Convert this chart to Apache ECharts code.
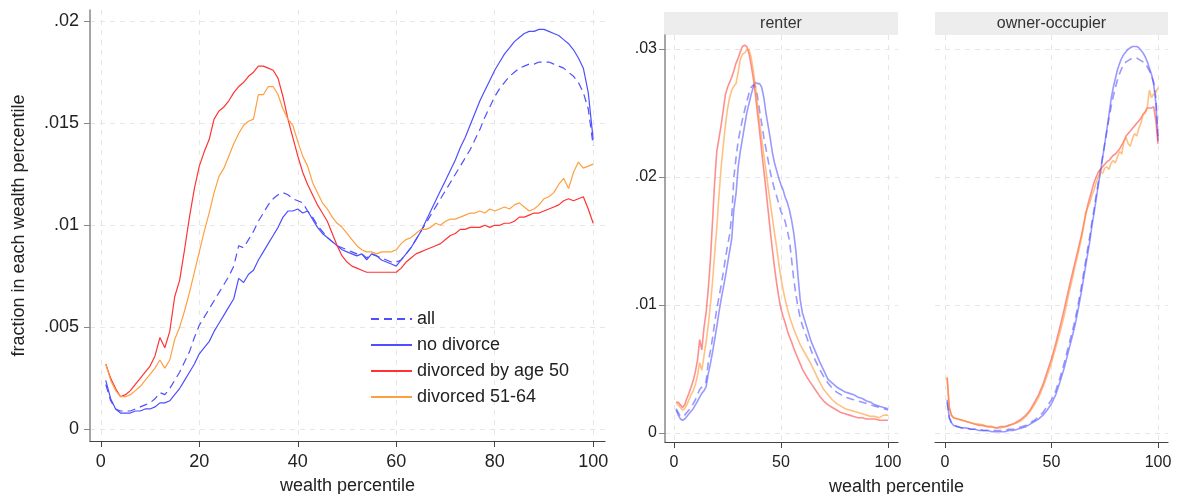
<!DOCTYPE html>
<html><head><meta charset="utf-8">
<script src="https://cdn.jsdelivr.net/npm/echarts@6/dist/echarts.min.js"></script>
<style>html,body{margin:0;padding:0;background:#fff}#c{width:1177px;height:494px}</style>
</head><body><div id="c"></div>
<script>
// ---------- DATA ----------
const seriesNames = ['all', 'no divorce', 'divorced by age 50', 'divorced 51-64'];
const panelTitles = ['renter', 'owner-occupier'];
const leftXTicks = [0, 20, 40, 60, 80, 100];
const leftYTicks = [0, 0.005, 0.01, 0.015, 0.02];
const rightXTicks = [0, 50, 100];
const rightYTicks = [0, 0.01, 0.02, 0.03];

const pctAll = [1,2,3,4,5,6,7,8,9,10,11,12,13,14,15,16,17,18,19,20,21,22,23,24,25,26,27,28,29,30,31,32,33,34,35,36,37,38,39,40,41,42,43,44,45,46,47,48,49,50,51,52,53,54,55,56,57,58,59,60,61,62,63,64,65,66,67,68,69,70,71,72,73,74,75,76,77,78,79,80,81,82,83,84,85,86,87,88,89,90,91,92,93,94,95,96,97,98,99,100];

const leftAll = [.0022,.0014,.0010,.0009,.0009,.0009,.0010,.0011,.0012,.0013,.0015,.0018,.0017,.0020,.0024,.0028,.0033,.0038,.0045,.0051,.0055,.0059,.0063,.0067,.0071,.0075,.0080,.0090,.0089,.0093,.0097,.0102,.0106,.0110,.0113,.0115,.0116,.0115,.0113,.0112,.0111,.0107,.0104,.0100,.0097,.0094,.0092,.0090,.0089,.0088,.0087,.0086,.0086,.0084,.0086,.0085,.0084,.0083,.0082,.0082,.0083,.0086,.0089,.0093,.0097,.0101,.0105,.0109,.0113,.0117,.0121,.0125,.0129,.0133,.0137,.0142,.0147,.0153,.0158,.0163,.0167,.0170,.0173,.0175,.0177,.0178,.0179,.0179,.0180,.0180,.0180,.0179,.0178,.0177,.0175,.0173,.0170,.0165,.0157,.0139];
const leftNoDiv = [.0024,.0015,.0010,.0008,.0008,.0008,.0009,.0009,.0010,.0010,.0011,.0013,.0013,.0014,.0017,.0020,.0024,.0028,.0032,.0037,.0040,.0043,.0048,.0052,.0056,.0060,.0064,.0074,.0072,.0076,.0078,.0083,.0087,.0091,.0095,.0099,.0104,.0107,.0107,.0108,.0106,.0107,.0103,.0099,.0096,.0094,.0092,.0090,.0088,.0087,.0086,.0085,.0086,.0083,.0086,.0085,.0083,.0082,.0081,.0080,.0083,.0086,.0089,.0093,.0097,.0102,.0107,.0112,.0117,.0122,.0127,.0132,.0138,.0143,.0149,.0155,.0161,.0166,.0171,.0176,.0180,.0184,.0187,.0190,.0192,.0194,.0195,.0195,.0196,.0196,.0195,.0194,.0193,.0191,.0189,.0186,.0182,.0177,.0165,.0142];
const leftDiv50 = [.0032,.0025,.0020,.0016,.0017,.0019,.0022,.0025,.0028,.0031,.0036,.0045,.0040,.0048,.0065,.0073,.0088,.0104,.0118,.0129,.0136,.0142,.0152,.0156,.0158,.0161,.0165,.0168,.0170,.0173,.0175,.0178,.0178,.0177,.0176,.0172,.0163,.0152,.0143,.0134,.0126,.0120,.0115,.0110,.0106,.0102,.0096,.0090,.0085,.0082,.0080,.0079,.0078,.0077,.0077,.0077,.0077,.0077,.0077,.0077,.0079,.0082,.0084,.0086,.0087,.0088,.0089,.0090,.0091,.0093,.0095,.0096,.0098,.0098,.0099,.0099,.0099,.0100,.0099,.0100,.0100,.0101,.0101,.0102,.0104,.0104,.0105,.0106,.0106,.0107,.0108,.0109,.0110,.0112,.0113,.0112,.0113,.0114,.0108,.0101];
const leftDiv5164 = [.0032,.0024,.0019,.0016,.0016,.0017,.0019,.0021,.0024,.0027,.0030,.0034,.0030,.0034,.0044,.0050,.0058,.0067,.0077,.0087,.0097,.0106,.0116,.0124,.0128,.0134,.0140,.0145,.0149,.0151,.0152,.0164,.0164,.0168,.0168,.0164,.0157,.0152,.0149,.0141,.0134,.0129,.0121,.0116,.0111,.0108,.0104,.0101,.0099,.0096,.0093,.0090,.0088,.0087,.0087,.0086,.0087,.0087,.0087,.0088,.0091,.0093,.0094,.0096,.0098,.0098,.0099,.0101,.0100,.0102,.0103,.0103,.0104,.0105,.0106,.0106,.0107,.0106,.0108,.0107,.0108,.0109,.0108,.0110,.0111,.0109,.0107,.0108,.0110,.0113,.0114,.0116,.0120,.0123,.0118,.0126,.0131,.0128,.0129,.0130];

const pctRenter = [1,2,3,4,5,6,7,8,9,10,11,12,13,14,15,16,17,18,19,20,21,22,23,24,25,26,27,28,29,30,31,32,33,34,35,36,37,38,39,40,41,42,43,44,45,46,47,48,49,50,51,52,53,54,55,56,57,58,59,60,62,64,66,68,70,72,74,76,78,80,82,84,86,88,90,92,94,96,98,100];
const renterAll = [.0019,.0016,.0013,.0013,.0014,.0016,.0018,.0020,.0023,.0026,.0030,.0034,.0036,.0038,.0040,.0055,.0064,.0074,.0086,.0097,.0106,.0115,.0125,.0136,.0146,.0155,.0170,.0200,.0215,.0228,.0237,.0245,.0252,.0259,.0265,.0270,.0272,.0271,.0263,.0252,.0242,.0231,.0222,.0213,.0204,.0197,.0190,.0185,.0179,.0173,.0170,.0165,.0158,.0150,.0135,.0120,.0108,.0098,.0090,.0084,.0075,.0065,.0057,.0050,.0044,.0039,.0035,.0032,.0030,.0028,.0027,.0026,.0025,.0024,.0023,.0022,.0021,.0020,.0019,.0018];
const renterNoDiv = [.0018,.0014,.0011,.0010,.0011,.0013,.0015,.0017,.0019,.0022,.0025,.0028,.0031,.0033,.0036,.0046,.0054,.0063,.0073,.0083,.0094,.0104,.0113,.0122,.0132,.0142,.0152,.0175,.0187,.0208,.0220,.0230,.0240,.0250,.0257,.0264,.0270,.0274,.0273,.0273,.0270,.0262,.0250,.0240,.0230,.0219,.0211,.0205,.0199,.0194,.0190,.0184,.0180,.0174,.0166,.0156,.0142,.0122,.0104,.0094,.0083,.0072,.0064,.0056,.0049,.0042,.0039,.0036,.0034,.0032,.0031,.0030,.0028,.0027,.0025,.0024,.0022,.0021,.0020,.0019];
const renterDiv50 = [.0024,.0024,.0022,.0020,.0022,.0027,.0031,.0036,.0041,.0048,.0057,.0073,.0065,.0082,.0094,.0112,.0135,.0165,.0196,.0220,.0230,.0240,.0252,.0264,.0270,.0274,.0278,.0283,.0289,.0293,.0298,.0302,.0303,.0302,.0297,.0288,.0278,.0265,.0250,.0236,.0220,.0205,.0190,.0174,.0158,.0143,.0129,.0117,.0106,.0097,.0091,.0086,.0080,.0075,.0071,.0066,.0062,.0058,.0054,.0050,.0044,.0039,.0034,.0029,.0025,.0022,.0020,.0018,.0016,.0015,.0014,.0013,.0012,.0012,.0011,.0011,.0011,.0010,.0010,.0010];
const renterDiv5164 = [.0024,.0022,.0020,.0018,.0019,.0022,.0026,.0030,.0033,.0038,.0045,.0055,.0049,.0060,.0071,.0084,.0100,.0118,.0140,.0160,.0185,.0207,.0224,.0240,.0253,.0262,.0268,.0271,.0273,.0282,.0292,.0296,.0297,.0299,.0300,.0294,.0284,.0272,.0257,.0243,.0230,.0217,.0205,.0192,.0180,.0168,.0156,.0145,.0132,.0121,.0112,.0104,.0097,.0091,.0086,.0081,.0077,.0073,.0069,.0066,.0060,.0054,.0047,.0040,.0034,.0030,.0026,.0023,.0021,.0019,.0018,.0017,.0016,.0015,.0014,.0013,.0013,.0012,.0014,.0014];

const pctOwner = [1,2,3,4,6,8,10,12,14,16,18,20,22,24,26,28,30,32,34,36,38,40,42,44,46,48,50,52,54,56,58,60,61,62,63,64,65,66,67,68,69,70,71,72,73,74,75,76,77,78,79,80,81,82,83,84,85,86,87,88,89,90,91,92,93,94,95,96,97,98,99,100];
const ownerAll = [.0024,.0012,.0008,.0006,.0005,.0004,.0004,.0003,.0003,.0003,.0002,.0002,.0002,.0002,.0002,.0002,.0003,.0003,.0004,.0005,.0006,.0008,.0010,.0013,.0016,.0021,.0026,.0033,.0043,.0055,.0068,.0081,.0088,.0096,.0105,.0114,.0124,.0134,.0144,.0154,.0165,.0175,.0186,.0196,.0206,.0216,.0226,.0236,.0246,.0255,.0263,.0270,.0276,.0281,.0285,.0288,.0290,.0291,.0292,.0293,.0293,.0293,.0292,.0291,.0290,.0289,.0286,.0283,.0279,.0274,.0262,.0232];
const ownerNoDiv = [.0026,.0012,.0008,.0006,.0005,.0004,.0004,.0003,.0003,.0002,.0002,.0002,.0001,.0001,.0001,.0001,.0002,.0002,.0003,.0004,.0005,.0007,.0009,.0011,.0014,.0018,.0023,.0030,.0040,.0051,.0064,.0077,.0084,.0092,.0101,.0110,.0120,.0130,.0140,.0150,.0162,.0172,.0183,.0194,.0204,.0215,.0226,.0237,.0249,.0261,.0270,.0277,.0284,.0289,.0293,.0296,.0298,.0300,.0301,.0302,.0302,.0302,.0301,.0299,.0297,.0294,.0290,.0285,.0280,.0272,.0258,.0228];
const ownerDiv50 = [.0043,.0020,.0014,.0012,.0011,.0010,.0009,.0008,.0007,.0006,.0006,.0005,.0005,.0004,.0005,.0005,.0006,.0007,.0009,.0011,.0014,.0018,.0024,.0030,.0038,.0048,.0058,.0070,.0083,.0097,.0112,.0126,.0133,.0140,.0147,.0154,.0162,.0170,.0178,.0184,.0190,.0196,.0200,.0204,.0206,.0208,.0210,.0212,.0213,.0215,.0217,.0218,.0220,.0222,.0225,.0228,.0232,.0234,.0236,.0238,.0240,.0242,.0244,.0246,.0249,.0251,.0254,.0254,.0254,.0255,.0244,.0226];
const ownerDiv5164 = [.0044,.0020,.0014,.0012,.0011,.0010,.0009,.0008,.0007,.0007,.0006,.0005,.0005,.0004,.0004,.0005,.0006,.0007,.0008,.0010,.0013,.0017,.0022,.0028,.0036,.0045,.0055,.0067,.0079,.0092,.0108,.0122,.0130,.0137,.0144,.0152,.0160,.0172,.0176,.0180,.0186,.0190,.0196,.0200,.0204,.0203,.0207,.0208,.0206,.0211,.0213,.0211,.0216,.0220,.0218,.0228,.0231,.0226,.0224,.0230,.0234,.0232,.0238,.0242,.0249,.0250,.0255,.0268,.0262,.0265,.0266,.0270];

// ---------- CHART ----------
const FONT = 'Liberation Sans, Arial, sans-serif';
const TXT = '#222';
const zip = (xs, ys) => xs.map((x, i) => [x, ys[i]]);
const fmtY = v => (v === 0 ? '0' : String(+v.toFixed(4)).replace(/^0/, ''));

const solidColors = { blue: '#4f4fff', red: '#ff3333', orange: '#ffa040' };
const paleColors = { blue: 'rgba(70,70,255,0.55)', red: 'rgba(255,50,50,0.55)', orange: 'rgba(255,150,50,0.6)' };

function mkSeries(name, data, color, dashed, xi, width) {
  return {
    name, type: 'line', xAxisIndex: xi, yAxisIndex: xi, data,
    showSymbol: false, symbol: 'none', smooth: false, animation: false,
    lineStyle: { color, width, type: dashed ? [8, 5] : 'solid' },
    itemStyle: { color }, emphasis: { disabled: true }, z: 3
  };
}

const gridSplit = { show: true, lineStyle: { color: '#e6e6e6', type: [5, 5], width: 1 } };

function xAxisCfg(gi, min, max, ticks, fs, margin) {
  return {
    type: 'value', gridIndex: gi, min, max,
    axisLine: { show: true, onZero: false, lineStyle: { color: '#444', width: 1.2 } },
    axisTick: { show: true, length: 6, customValues: ticks, lineStyle: { color: '#444' } },
    axisLabel: { customValues: ticks, color: TXT, fontSize: fs, fontFamily: FONT, margin },
    splitLine: gridSplit
  };
}
function yAxisCfg(gi, min, max, ticks, fs, margin, showAxis) {
  return {
    type: 'value', gridIndex: gi, min, max,
    axisLine: { show: showAxis, onZero: false, lineStyle: { color: '#888', width: 1.5 } },
    axisTick: { show: showAxis, length: 6, customValues: ticks, lineStyle: { color: '#888' } },
    axisLabel: { show: showAxis, customValues: ticks, color: TXT, fontSize: fs, fontFamily: FONT, margin, formatter: fmtY },
    splitLine: gridSplit
  };
}

const xL = xAxisCfg(0, -2.2, 102.4, leftXTicks, 18, 12);
xL.name = 'wealth percentile'; xL.nameLocation = 'middle'; xL.nameGap = 36;
xL.nameTextStyle = { color: TXT, fontSize: 18, fontFamily: FONT };
const yL = yAxisCfg(0, -0.00057, 0.02055, leftYTicks, 18, 11, true);
yL.name = 'fraction in each wealth percentile'; yL.nameLocation = 'middle'; yL.nameGap = 62;
yL.nameTextStyle = { color: TXT, fontSize: 18, fontFamily: FONT };

const option = {
  backgroundColor: '#fff',
  animation: false,
  grid: [
    { left: 90, top: 10, width: 515, height: 431, containLabel: false, outerBoundsMode: 'none' },
    { left: 665, top: 35, width: 233, height: 407, containLabel: false, outerBoundsMode: 'none' },
    { left: 935, top: 35, width: 233, height: 407, containLabel: false, outerBoundsMode: 'none' }
  ],
  xAxis: [
    xL,
    xAxisCfg(1, -4.2, 104.7, rightXTicks, 16, 13),
    xAxisCfg(2, -4.7, 104.7, rightXTicks, 16, 13)
  ],
  yAxis: [
    yL,
    yAxisCfg(1, -0.0007, 0.0311, rightYTicks, 16, 8, true),
    yAxisCfg(2, -0.0007, 0.0311, rightYTicks, 16, 8, false)
  ],
  legend: {
    data: seriesNames, orient: 'vertical', left: 365, top: 305,
    itemWidth: 41, itemHeight: 10, itemGap: 8,
    itemStyle: { opacity: 0 },
    textStyle: { color: TXT, fontSize: 18, fontFamily: FONT, lineHeight: 18 },
    selectedMode: false
  },
  graphic: [
    { type: 'rect', shape: { x: 664, y: 12, width: 234, height: 23 }, style: { fill: '#ededed' }, silent: true },
    { type: 'text', x: 781, y: 23.5, style: { text: panelTitles[0], fill: '#333', fontSize: 16, fontFamily: FONT, align: 'center', verticalAlign: 'middle' }, silent: true },
    { type: 'rect', shape: { x: 935, y: 12, width: 233, height: 23 }, style: { fill: '#ededed' }, silent: true },
    { type: 'text', x: 1051.5, y: 23.5, style: { text: panelTitles[1], fill: '#333', fontSize: 16, fontFamily: FONT, align: 'center', verticalAlign: 'middle' }, silent: true },
    { type: 'text', x: 896.5, y: 487, style: { text: 'wealth percentile', fill: TXT, fontSize: 18, fontFamily: FONT, align: 'center', verticalAlign: 'middle' }, silent: true }
  ],
  series: [
    mkSeries(seriesNames[0], zip(pctAll, leftAll), solidColors.blue, true, 0, 1.2),
    mkSeries(seriesNames[1], zip(pctAll, leftNoDiv), solidColors.blue, false, 0, 1.2),
    mkSeries(seriesNames[2], zip(pctAll, leftDiv50), solidColors.red, false, 0, 1.2),
    mkSeries(seriesNames[3], zip(pctAll, leftDiv5164), solidColors.orange, false, 0, 1.2),
    mkSeries(seriesNames[0], zip(pctRenter, renterAll), paleColors.blue, true, 1, 1.6),
    mkSeries(seriesNames[1], zip(pctRenter, renterNoDiv), paleColors.blue, false, 1, 1.6),
    mkSeries(seriesNames[2], zip(pctRenter, renterDiv50), paleColors.red, false, 1, 1.6),
    mkSeries(seriesNames[3], zip(pctRenter, renterDiv5164), paleColors.orange, false, 1, 1.6),
    mkSeries(seriesNames[0], zip(pctOwner, ownerAll), paleColors.blue, true, 2, 1.6),
    mkSeries(seriesNames[1], zip(pctOwner, ownerNoDiv), paleColors.blue, false, 2, 1.6),
    mkSeries(seriesNames[2], zip(pctOwner, ownerDiv50), paleColors.red, false, 2, 1.6),
    mkSeries(seriesNames[3], zip(pctOwner, ownerDiv5164), paleColors.orange, false, 2, 1.6)
  ]
};
const chart = echarts.init(document.getElementById('c'), null, { renderer: 'canvas' });
chart.setOption(option);
</script></body></html>
